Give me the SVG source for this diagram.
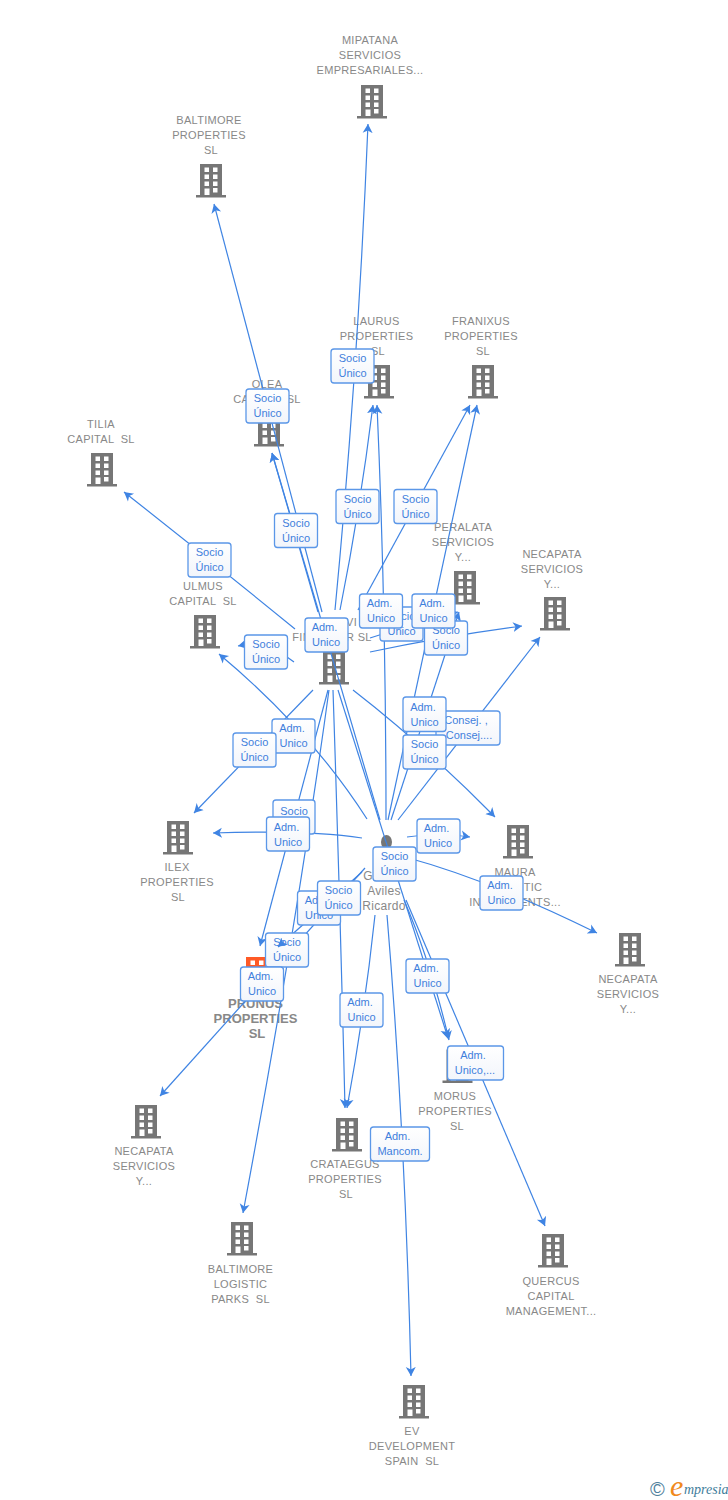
<svg xmlns="http://www.w3.org/2000/svg" width="728" height="1500" viewBox="0 0 728 1500">
<style>
.l{font:11px "Liberation Sans",Arial,sans-serif;fill:#888;text-anchor:middle;letter-spacing:.3px;white-space:pre}
.p{font:bold 13px "Liberation Sans",Arial,sans-serif;fill:#888;text-anchor:middle}
.h{font:12px "Liberation Sans",Arial,sans-serif;fill:#888;text-anchor:middle;letter-spacing:.3px}
.c path{fill:none;stroke:#3f84e3;stroke-width:1.2;marker-end:url(#a)}
.b rect{fill:url(#g);stroke:#5b97e8;stroke-width:1.3}
.b text{font:11px "Liberation Sans",Arial,sans-serif;fill:#3f7fdc;text-anchor:middle}
</style>
<defs>
<linearGradient id="g" x1="0" y1="0" x2="0" y2="1"><stop offset="0" stop-color="#fff"/><stop offset="1" stop-color="#f2f5fb"/></linearGradient>
<marker id="a" markerUnits="userSpaceOnUse" markerWidth="12" markerHeight="12" refX="9" refY="5.5" orient="auto"><path d="M0 .5L9 5.5L0 10.5L2.5 5.5Z" fill="#3f84e3"/></marker>
<path id="bd" fill-rule="evenodd" d="M5 0H27V31H31V33.5H1V31H5ZM9.5 3.5V8H14V3.5ZM18 3.5V8H22.5V3.5ZM9.5 10.5V15H14V10.5ZM18 10.5V15H22.5V10.5ZM9.5 17.5V22H14V17.5ZM18 17.5V22H22.5V17.5ZM18 24V28.5H22.5V24ZM9.5 24.5V31H14.5V24.5Z"/>
</defs>
<g id="n-mipatana" fill="#767676"><use href="#bd" x="356" y="85"/><text class="l" x="370" y="44">MIPATANA</text><text class="l" x="370" y="59">SERVICIOS</text><text class="l" x="370" y="74">EMPRESARIALES...</text></g>
<g id="n-baltimore" fill="#767676"><use href="#bd" x="195" y="164"/><text class="l" x="209" y="124">BALTIMORE</text><text class="l" x="209" y="139">PROPERTIES</text><text class="l" x="211" y="154">SL</text></g>
<g id="n-laurus" fill="#767676"><use href="#bd" x="363" y="365"/><text class="l" x="376.5" y="325">LAURUS</text><text class="l" x="376.5" y="340">PROPERTIES</text><text class="l" x="378" y="355">SL</text></g>
<g id="n-franixus" fill="#767676"><use href="#bd" x="467" y="365"/><text class="l" x="481" y="325">FRANIXUS</text><text class="l" x="481" y="340">PROPERTIES</text><text class="l" x="483" y="355">SL</text></g>
<g id="n-olea" fill="#767676"><use href="#bd" x="253" y="413"/><text class="l" x="267" y="388">OLEA</text><text class="l" x="267" y="403">CAPITAL  SL</text></g>
<g id="n-tilia" fill="#767676"><use href="#bd" x="86" y="453"/><text class="l" x="101" y="428">TILIA</text><text class="l" x="101" y="443">CAPITAL  SL</text></g>
<g id="n-peralata" fill="#767676"><use href="#bd" x="449" y="571"/><text class="l" x="463" y="531">PERALATA</text><text class="l" x="463" y="546">SERVICIOS</text><text class="l" x="463" y="561">Y...</text></g>
<g id="n-necapata1" fill="#767676"><use href="#bd" x="539" y="597"/><text class="l" x="552" y="558">NECAPATA</text><text class="l" x="552" y="573">SERVICIOS</text><text class="l" x="552" y="588">Y...</text></g>
<g id="n-ulmus" fill="#767676"><use href="#bd" x="189" y="615"/><text class="l" x="203" y="590">ULMUS</text><text class="l" x="203" y="605">CAPITAL  SL</text></g>
<g id="n-central" fill="#767676"><use href="#bd" x="318" y="651"/><text class="l" x="331" y="626">MAGRAVI</text><text class="l" x="332" y="641">FINANCIER SL</text></g>
<g id="n-ilex" fill="#767676"><use href="#bd" x="162" y="821"/><text class="l" x="177" y="871">ILEX</text><text class="l" x="177" y="886">PROPERTIES</text><text class="l" x="178" y="901">SL</text></g>
<g id="n-maura" fill="#767676"><use href="#bd" x="502" y="825"/><text class="l" x="515" y="876">MAURA</text><text class="l" x="515" y="891">ATLANTIC</text><text class="l" x="515" y="906">INVESTMENTS...</text></g>
<g id="n-person" fill="#767676"><ellipse cx="386.5" cy="842" rx="5.5" ry="7"/><text class="h" x="368" y="880">G</text><text class="h" x="384" y="895">Aviles</text><text class="h" x="384" y="910">Ricardo</text></g>
<g id="n-necapata2" fill="#767676"><use href="#bd" x="614" y="933"/><text class="l" x="628" y="983">NECAPATA</text><text class="l" x="628" y="998">SERVICIOS</text><text class="l" x="628" y="1013">Y...</text></g>
<g id="n-prunus" fill="#ff5a26"><use href="#bd" x="241" y="957"/><text class="p" x="255.500" y="1008">PRUNUS</text><text class="p" x="255.500" y="1023">PROPERTIES</text><text class="p" x="257" y="1038">SL</text></g>
<g id="n-morus" fill="#767676"><use href="#bd" x="441.500" y="1049.500"/><text class="l" x="455" y="1100">MORUS</text><text class="l" x="455" y="1115">PROPERTIES</text><text class="l" x="457" y="1130">SL</text></g>
<g id="n-necapata3" fill="#767676"><use href="#bd" x="130" y="1105"/><text class="l" x="144" y="1155">NECAPATA</text><text class="l" x="144" y="1170">SERVICIOS</text><text class="l" x="144" y="1185">Y...</text></g>
<g id="n-crataegus" fill="#767676"><use href="#bd" x="331" y="1118"/><text class="l" x="345" y="1168">CRATAEGUS</text><text class="l" x="345" y="1183">PROPERTIES</text><text class="l" x="346" y="1198">SL</text></g>
<g id="n-baltimore-logistic" fill="#767676"><use href="#bd" x="226" y="1222"/><text class="l" x="240.500" y="1273">BALTIMORE</text><text class="l" x="240.500" y="1288">LOGISTIC</text><text class="l" x="240.500" y="1303">PARKS  SL</text></g>
<g id="n-quercus" fill="#767676"><use href="#bd" x="537" y="1234"/><text class="l" x="551" y="1285">QUERCUS</text><text class="l" x="551" y="1300">CAPITAL</text><text class="l" x="551" y="1315">MANAGEMENT...</text></g>
<g id="n-ev" fill="#767676"><use href="#bd" x="398" y="1385"/><text class="l" x="412" y="1435">EV</text><text class="l" x="412" y="1450">DEVELOPMENT</text><text class="l" x="412" y="1465">SPAIN  SL</text></g>
<g id="connectors" class="c">
<path d="M335 610Q358 370 368 124"/>
<path d="M322 612L214 204"/>
<path d="M340 610Q360 510 373 405"/>
<path d="M358 610L470 405"/>
<path d="M318 612L272 453"/>
<path d="M295 629Q213 562 124 492"/>
<path d="M294 662Q266 640 238 646"/>
<path d="M370 638Q410 625 458 612"/>
<path d="M370 652Q445 636 522 626"/>
<path d="M353 690Q424 745 495 817"/>
<path d="M313 690L194 813"/>
<path d="M328 690L260 946"/>
<path d="M329 690Q296 930 243 1213"/>
<path d="M333 690Q340 900 345 1108"/>
<path d="M338 690L448 1038"/>
<path d="M380 820L272 453"/>
<path d="M386 820Q386 610 377 405"/>
<path d="M388 820L477 405"/>
<path d="M391 820L459 612"/>
<path d="M398 820L540 637"/>
<path d="M367 819Q310 730 219 654"/>
<path d="M362 838Q310 830 213 833"/>
<path d="M407 837Q440 832 470 837"/>
<path d="M405 857Q490 880 597 933"/>
<path d="M362 872L278 947"/>
<path d="M365 868L160 1096"/>
<path d="M375 915Q365 1010 347 1108"/>
<path d="M387 915Q405 1130 411 1376"/>
<path d="M404 900Q430 960 449 1040"/>
<path d="M406 900L545 1226"/>
</g>
<g id="edge-labels" class="b">
<g><rect x="331" y="349" width="43" height="34" rx="3"/><text x="352.500" y="362">Socio</text><text x="352.500" y="377">Único</text></g>
<g><rect x="246" y="389" width="43" height="34" rx="3"/><text x="267.500" y="402">Socio</text><text x="267.500" y="417">Único</text></g>
<g><rect x="336" y="489.500" width="43" height="34" rx="3"/><text x="357.500" y="503">Socio</text><text x="357.500" y="518">Único</text></g>
<g><rect x="394" y="489.500" width="43" height="34" rx="3"/><text x="415.500" y="503">Socio</text><text x="415.500" y="518">Único</text></g>
<g><rect x="274.500" y="513.500" width="43" height="34" rx="3"/><text x="296" y="527">Socio</text><text x="296" y="542">Único</text></g>
<g><rect x="188" y="543" width="43" height="34" rx="3"/><text x="209.500" y="556">Socio</text><text x="209.500" y="571">Único</text></g>
<g><rect x="244.500" y="635" width="43" height="34" rx="3"/><text x="266" y="648">Socio</text><text x="266" y="663">Único</text></g>
<g><rect x="380" y="607" width="43" height="34" rx="3"/><text x="401.500" y="620">Socio</text><text x="401.500" y="635">Único</text></g>
<g><rect x="424.500" y="621" width="43" height="34" rx="3"/><text x="446" y="634">Socio</text><text x="446" y="649">Único</text></g>
<g><rect x="359.500" y="594" width="43" height="34" rx="3"/><text x="379.500" y="607">Adm.</text><text x="381" y="622">Unico</text></g>
<g><rect x="412" y="594" width="43" height="34" rx="3"/><text x="432" y="607">Adm.</text><text x="433.500" y="622">Unico</text></g>
<g><rect x="305" y="618" width="43" height="34" rx="3"/><text x="324.500" y="631">Adm.</text><text x="326" y="646">Unico</text></g>
<g><rect x="272" y="719" width="43" height="34" rx="3"/><text x="292" y="732">Adm.</text><text x="293.500" y="747">Unico</text></g>
<g><rect x="233" y="733" width="43" height="34" rx="3"/><text x="254.500" y="746">Socio</text><text x="254.500" y="761">Único</text></g>
<g><rect x="436" y="711" width="64" height="34" rx="3"/><text x="466" y="724">Consej. ,</text><text x="469" y="739">Consej....</text></g>
<g><rect x="403" y="697" width="43" height="34.500" rx="3"/><text x="423" y="711">Adm.</text><text x="424.500" y="726">Unico</text></g>
<g><rect x="403" y="735" width="43" height="34" rx="3"/><text x="424.500" y="748">Socio</text><text x="424.500" y="763">Único</text></g>
<g><rect x="273" y="800" width="42" height="34" rx="3"/><text x="294" y="815">Socio</text></g>
<g><rect x="266.500" y="817" width="43" height="34" rx="3"/><text x="286.500" y="831">Adm.</text><text x="288" y="846">Unico</text></g>
<g><rect x="417" y="819" width="43" height="34" rx="3"/><text x="436.500" y="832">Adm.</text><text x="438" y="847">Unico</text></g>
<g><rect x="373" y="847" width="43" height="34" rx="3"/><text x="394.500" y="860">Socio</text><text x="394.500" y="875">Único</text></g>
<g><rect x="480" y="876" width="43" height="34" rx="3"/><text x="500" y="889">Adm.</text><text x="501.500" y="904">Unico</text></g>
<g><rect x="297.500" y="891" width="43" height="34" rx="3"/><text x="317.500" y="904">Adm.</text><text x="319" y="919">Unico</text></g>
<g><rect x="317.500" y="881" width="43" height="34" rx="3"/><text x="338.500" y="894">Socio</text><text x="338.500" y="909">Único</text></g>
<g><rect x="265.500" y="933" width="43" height="34" rx="3"/><text x="287" y="946">Socio</text><text x="287" y="961">Único</text></g>
<g><rect x="240.500" y="967" width="43" height="34" rx="3"/><text x="260.500" y="980">Adm.</text><text x="262" y="995">Unico</text></g>
<g><rect x="406" y="959" width="43" height="34" rx="3"/><text x="426" y="972">Adm.</text><text x="427.500" y="987">Unico</text></g>
<g><rect x="340" y="993" width="43" height="34" rx="3"/><text x="360" y="1006">Adm.</text><text x="361.500" y="1021">Unico</text></g>
<g><rect x="447.500" y="1046" width="56" height="34" rx="3"/><text x="473" y="1059">Adm.</text><text x="475" y="1074">Unico,...</text></g>
<g><rect x="370.500" y="1127" width="59" height="34" rx="3"/><text x="397.500" y="1140">Adm.</text><text x="400" y="1155">Mancom.</text></g>
</g>
<g id="connectors-top" class="c"><path d="M284 941.500L278 947"/></g>
<g id="logo"><text x="650" y="1496" font-family="Liberation Sans,sans-serif" font-size="20" fill="#4f7f9c">©</text><text x="670" y="1496" font-family="Liberation Serif,serif" font-style="italic" font-size="30" fill="#f08a1d">e</text><text x="684" y="1494" font-family="Liberation Serif,serif" font-style="italic" font-size="14" fill="#3f7d9b">mpresia</text></g>
</svg>
